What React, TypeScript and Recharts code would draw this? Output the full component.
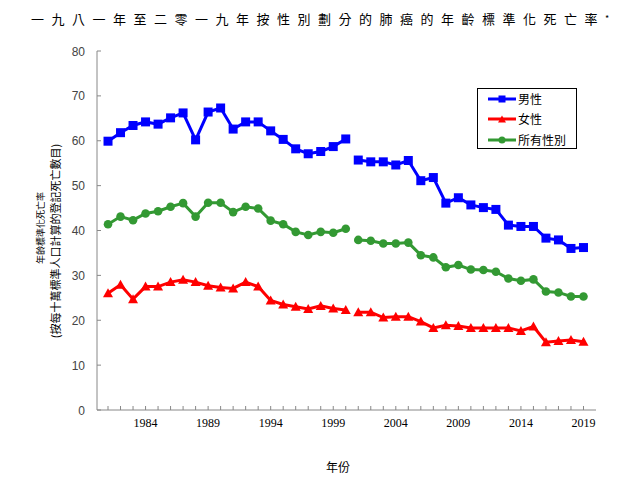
import React from 'react';
import { LineChart, Line, XAxis, YAxis, Legend } from 'recharts';

const years = [
  1981, 1982, 1983, 1984, 1985, 1986, 1987, 1988, 1989, 1990,
  1991, 1992, 1993, 1994, 1995, 1996, 1997, 1998, 1999, 2000,
  2001, 2002, 2003, 2004, 2005, 2006, 2007, 2008, 2009, 2010,
  2011, 2012, 2013, 2014, 2015, 2016, 2017, 2018, 2019,
];

const male = [
  59.9, 61.8, 63.4, 64.2, 63.7, 65.1, 66.2, 60.2, 66.4, 67.3,
  62.6, 64.2, 64.2, 62.2, 60.3, 58.2, 57.1, 57.6, 58.7, 60.4,
  55.7, 55.3, 55.3, 54.6, 55.6, 51.1, 51.8, 46.1, 47.3, 45.7,
  45.1, 44.7, 41.2, 40.9, 40.9, 38.3, 37.9, 36.0, 36.2,
];

const female = [
  26.0, 27.9, 24.7, 27.5, 27.5, 28.5, 29.0, 28.5, 27.7, 27.3,
  27.1, 28.5, 27.5, 24.4, 23.5, 23.0, 22.5, 23.2, 22.6, 22.3,
  21.8, 21.8, 20.6, 20.8, 20.8, 19.7, 18.3, 18.9, 18.7, 18.3,
  18.3, 18.3, 18.3, 17.6, 18.6, 15.1, 15.4, 15.6, 15.2,
];

const allSexes = [
  41.4, 43.1, 42.3, 43.8, 44.3, 45.3, 46.1, 43.1, 46.2, 46.2,
  44.1, 45.3, 44.9, 42.2, 41.4, 39.7, 39.0, 39.7, 39.5, 40.4,
  37.9, 37.7, 37.1, 37.1, 37.3, 34.5, 34.0, 31.8, 32.3, 31.3,
  31.2, 30.8, 29.3, 28.8, 29.1, 26.4, 26.2, 25.3, 25.3,
];

// series break (lines are not joined between these two years)
const breakAfterYear = 2000;

const xTickLabels = [1984, 1989, 1994, 1999, 2004, 2009, 2014, 2019];
const yTicks = [0, 10, 20, 30, 40, 50, 60, 70, 80];

const seriesNames = { male: '男性', female: '女性', all: '所有性別' };
const titleText = '一九八一年至二零一九年按性別劃分的肺癌的年齡標準化死亡率';
const yLabel1 = '年齡標準化死亡率';
const yLabel2 = '(按每十萬標準人口計算的登記死亡數目)';
const xLabel = '年份';

const BLUE = '#0000FF';
const RED = '#FF0000';
const GREEN = '#339933';

type Row = { year: number; male: number | null; female: number | null; all: number | null };
const data: Row[] = [];
years.forEach((y, i) => {
  data.push({ year: y, male: male[i], female: female[i], all: allSexes[i] });
  if (y === breakAfterYear) {
    data.push({ year: y + 0.5, male: null, female: null, all: null });
  }
});

const valid = (p: any) => p && p.cx != null && p.cy != null && !isNaN(p.cx) && !isNaN(p.cy) && p.value != null;

const SquareDot = (p: any) => {
  if (!valid(p)) return <g key={`sq-${p.index}`} />;
  return <rect key={`sq-${p.index}`} x={p.cx - 4.5} y={p.cy - 4.5} width={9} height={9} fill={BLUE} />;
};

const TriangleDot = (p: any) => {
  if (!valid(p)) return <g key={`tr-${p.index}`} />;
  const { cx, cy } = p;
  return (
    <path
      key={`tr-${p.index}`}
      d={`M${cx},${cy - 5} L${cx + 5},${cy + 4} L${cx - 5},${cy + 4} Z`}
      fill={RED}
    />
  );
};

const CircleDot = (p: any) => {
  if (!valid(p)) return <g key={`ci-${p.index}`} />;
  return <circle key={`ci-${p.index}`} cx={p.cx} cy={p.cy} r={4.3} fill={GREEN} />;
};

const YTick = (props: any) => {
  const { x, y, payload } = props;
  return (
    <g>
      <line x1={x} x2={x + 4} y1={y} y2={y} stroke="#888" />
      <text
        x={x - 12}
        y={y}
        dy={4.5}
        textAnchor="end"
        fontFamily="'Liberation Sans', Arial, sans-serif"
        fontSize={12}
        fill="#444"
      >
        {payload.value}
      </text>
    </g>
  );
};

const XTick = (props: any) => {
  const { x, y, payload } = props;
  const show = xTickLabels.includes(payload.value);
  return (
    <g>
      <line x1={x} x2={x} y1={y} y2={y - 4} stroke="#888" />
      {show && (
        <text
          x={x}
          y={y + 17}
          textAnchor="middle"
          fontFamily="'Liberation Serif', 'Times New Roman', serif"
          fontSize={12}
          fill="#000"
        >
          {payload.value}
        </text>
      )}
    </g>
  );
};

const legendItems = [
  { name: seriesNames.male, color: BLUE, shape: 'square' },
  { name: seriesNames.female, color: RED, shape: 'triangle' },
  { name: seriesNames.all, color: GREEN, shape: 'circle' },
];

const LegendBox = () => (
  <div
    style={{
      width: 100,
      height: 61,
      border: '1px solid #000',
      boxSizing: 'border-box',
      background: '#fff',
      padding: '0px 0 0 10px',
    }}
  >
    {legendItems.map((it) => (
      <div key={it.name} style={{ display: 'flex', alignItems: 'center', height: 20.3 }}>
        <svg width={28} height={10} style={{ display: 'block' }}>
          <line x1={0} x2={28} y1={5} y2={5} stroke={it.color} strokeWidth={3} />
          {it.shape === 'square' && <rect x={10.5} y={1.5} width={7} height={7} fill={it.color} />}
          {it.shape === 'triangle' && <path d="M14,1.5 L18,8.5 L10,8.5 Z" fill={it.color} />}
          {it.shape === 'circle' && <circle cx={14} cy={5} r={3.5} fill={it.color} />}
        </svg>
        <span
          style={{
            marginLeft: 2,
            fontSize: 12,
            lineHeight: '14px',
            fontFamily: "'Noto Sans CJK TC', sans-serif",
            color: '#000',
          }}
        >
          {it.name}
        </span>
      </div>
    ))}
  </div>
);

export default function App() {
  return (
    <div style={{ position: 'absolute', left: 0, top: 0, width: 640, height: 480, background: '#fff' }}>
      <div
        style={{
          position: 'absolute',
          left: 0,
          top: 10,
          width: 640,
          textAlign: 'center',
          fontFamily: "'Noto Sans CJK TC', sans-serif",
          fontSize: 13,
          letterSpacing: 7.5,
          lineHeight: '18px',
          color: '#000',
          whiteSpace: 'nowrap',
        }}
      >
        {titleText}
        <span style={{ fontSize: 9, verticalAlign: 'top', letterSpacing: 0 }}>*</span>
      </div>

      <div
        style={{
          position: 'absolute',
          left: 41,
          top: 228,
          transform: 'translate(-50%, -50%) rotate(-90deg)',
          whiteSpace: 'nowrap',
          fontFamily: "'Noto Sans CJK TC', sans-serif",
          fontSize: 9,
          lineHeight: '10px',
          color: '#000',
        }}
      >
        {yLabel1}
      </div>
      <div
        style={{
          position: 'absolute',
          left: 55,
          top: 241,
          transform: 'translate(-50%, -50%) rotate(-90deg)',
          whiteSpace: 'nowrap',
          fontFamily: "'Noto Sans CJK TC', sans-serif",
          fontSize: 11,
          lineHeight: '12px',
          color: '#000',
        }}
      >
        {yLabel2}
      </div>

      <div
        style={{
          position: 'absolute',
          left: 338,
          top: 466,
          transform: 'translate(-50%, -50%)',
          whiteSpace: 'nowrap',
          fontFamily: "'Noto Sans CJK TC', sans-serif",
          fontSize: 12,
          color: '#000',
        }}
      >
        {xLabel}
      </div>

      <div style={{ position: 'absolute', left: 0, top: 0 }}>
        <LineChart width={640} height={480} data={data} margin={{ top: 51, right: 44, bottom: 40, left: 57 }}>
          <XAxis
            dataKey="year"
            type="number"
            domain={[1980.12, 2020]}
            ticks={years}
            interval={0}
            tick={<XTick />}
            tickLine={false}
            tickSize={0}
            tickMargin={0}
            height={30}
            axisLine={{ stroke: '#888' }}
            allowDataOverflow
          />
          <XAxis
            xAxisId="top"
            orientation="top"
            type="number"
            domain={[1980.12, 2020]}
            tick={false}
            tickLine={false}
            height={0}
            axisLine={{ stroke: '#000' }}
            allowDataOverflow
          />
          <YAxis
            domain={[0, 80]}
            ticks={yTicks}
            interval={0}
            tick={<YTick />}
            tickLine={false}
            tickSize={0}
            tickMargin={0}
            width={40}
            axisLine={{ stroke: '#888' }}
            allowDataOverflow
          />
          <YAxis
            yAxisId="right"
            orientation="right"
            domain={[0, 80]}
            tick={false}
            tickLine={false}
            width={0}
            axisLine={{ stroke: '#000' }}
          />
          <Legend
            layout="horizontal"
            verticalAlign="middle"
            align="center"
            wrapperStyle={{ left: 477, top: 88, width: 100, height: 61 }}
            content={<LegendBox />}
          />
          <Line
            type="linear"
            dataKey="male"
            name={seriesNames.male}
            stroke={BLUE}
            strokeWidth={3}
            dot={SquareDot}
            activeDot={false}
            connectNulls={false}
            isAnimationActive={false}
          />
          <Line
            type="linear"
            dataKey="female"
            name={seriesNames.female}
            stroke={RED}
            strokeWidth={3}
            dot={TriangleDot}
            activeDot={false}
            connectNulls={false}
            isAnimationActive={false}
          />
          <Line
            type="linear"
            dataKey="all"
            name={seriesNames.all}
            stroke={GREEN}
            strokeWidth={3}
            dot={CircleDot}
            activeDot={false}
            connectNulls={false}
            isAnimationActive={false}
          />
        </LineChart>
      </div>
    </div>
  );
}
